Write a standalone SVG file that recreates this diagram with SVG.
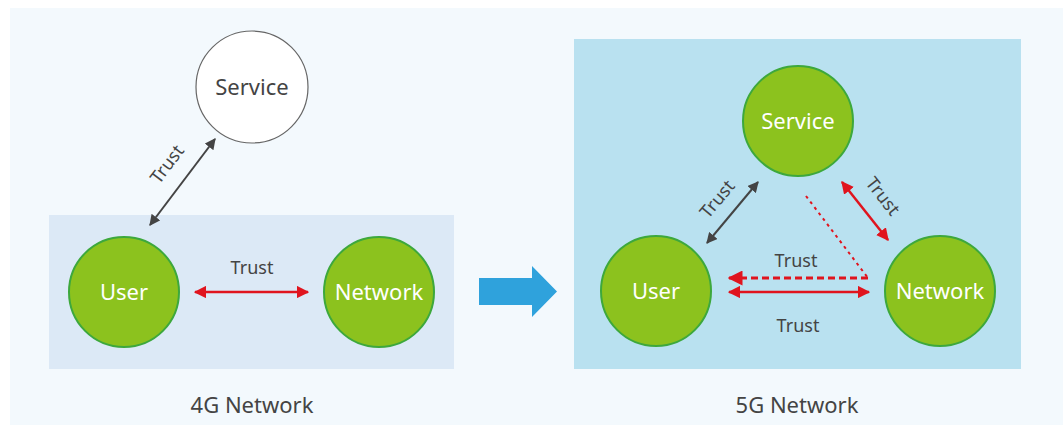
<svg xmlns="http://www.w3.org/2000/svg" width="1063" height="425" viewBox="0 0 1063 425">
<defs>
<style>
.node{fill:#8cc21e;stroke:#3da83c;stroke-width:2}
.lbl{font-family:"Noto Sans","Open Sans",sans-serif;font-size:22px;fill:#ffffff;text-anchor:middle}
.tr{font-family:"Noto Sans","Open Sans",sans-serif;font-size:18px;fill:#444;text-anchor:middle}
.cap{font-family:"Noto Sans","Open Sans",sans-serif;font-size:22px;fill:#444;text-anchor:middle}
.gray{stroke:#444;stroke-width:2;fill:none}
.red{stroke:#e0141e;stroke-width:2.5;fill:none}
</style>
<marker id="ag" viewBox="0 0 10 10" refX="9" refY="5" markerWidth="5.5" markerHeight="5.5" orient="auto-start-reverse" markerUnits="strokeWidth"><path d="M0,0 L10,5 L0,10 z" fill="#444"/></marker>
<marker id="ar" viewBox="0 0 10 10" refX="9" refY="5" markerWidth="5" markerHeight="5" orient="auto-start-reverse" markerUnits="strokeWidth"><path d="M0,0 L10,5 L0,10 z" fill="#e0141e"/></marker>
</defs>
<rect x="0" y="0" width="1063" height="425" fill="#ffffff"/>
<rect x="10" y="8" width="1053" height="417" fill="#f3f9fd"/>
<rect x="49" y="215" width="405" height="154" fill="#dce9f6"/>
<rect x="574" y="39" width="447" height="330" fill="#b9e1f0"/>
<polygon points="479,278 532,278 532,266 557,291.5 532,317 532,305 479,305" fill="#2fa2dc"/>
<g id="connectors">
<line class="gray" x1="150" y1="225" x2="215" y2="139" marker-start="url(#ag)" marker-end="url(#ag)"/>
<text class="tr" transform="translate(172,168) rotate(-53)">Trust</text>
<line class="red" x1="195" y1="292" x2="308" y2="292" marker-start="url(#ar)" marker-end="url(#ar)"/>
<text class="tr" x="252" y="274">Trust</text>
<line class="gray" x1="707" y1="243" x2="758" y2="182" marker-start="url(#ag)" marker-end="url(#ag)"/>
<text class="tr" transform="translate(722,203) rotate(-50)">Trust</text>
<line class="red" x1="842" y1="182" x2="888" y2="240" marker-start="url(#ar)" marker-end="url(#ar)"/>
<text class="tr" transform="translate(878,200) rotate(52)">Trust</text>
<line x1="806" y1="196" x2="868" y2="278" stroke="#e0141e" stroke-width="2" stroke-dasharray="3,4"/>
<line x1="868" y1="278" x2="729" y2="278" stroke="#e0141e" stroke-width="3" stroke-dasharray="7,4" marker-end="url(#ar)"/>
<line class="red" x1="729" y1="292" x2="869" y2="292" marker-start="url(#ar)" marker-end="url(#ar)"/>
<text class="tr" x="796" y="267">Trust</text>
<text class="tr" x="798" y="332">Trust</text>
</g>
<g id="service4g"><circle cx="252" cy="87" r="56" fill="#ffffff" stroke="#666" stroke-width="1.2"/><text class="cap" x="252" y="95">Service</text></g>
<g id="user4g"><circle class="node" cx="124" cy="292" r="55"/><text class="lbl" x="124" y="300">User</text></g>
<g id="network4g"><circle class="node" cx="379" cy="292" r="55"/><text class="lbl" x="379" y="300">Network</text></g>
<g id="service5g"><circle class="node" cx="798" cy="121" r="55"/><text class="lbl" x="798" y="129">Service</text></g>
<g id="user5g"><circle class="node" cx="656" cy="291" r="55"/><text class="lbl" x="656" y="299">User</text></g>
<g id="network5g"><circle class="node" cx="940" cy="291" r="55"/><text class="lbl" x="940" y="299">Network</text></g>
<text class="cap" x="252" y="413">4G Network</text>
<text class="cap" x="797" y="413">5G Network</text>
</svg>
